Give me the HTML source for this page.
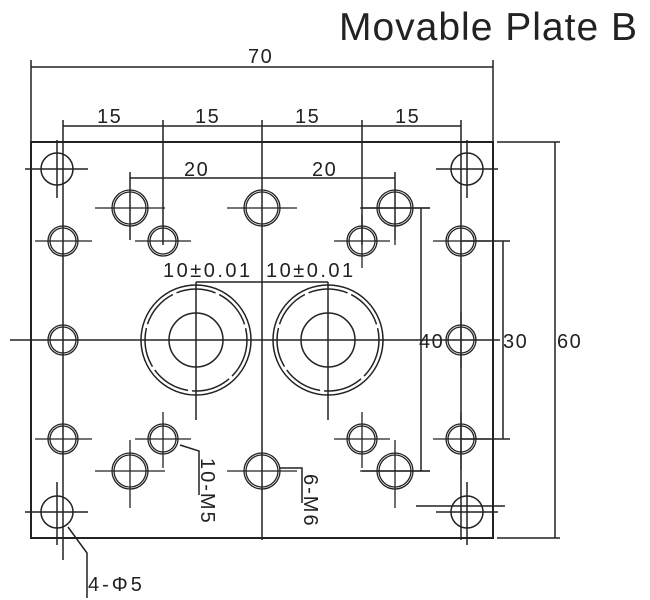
<!DOCTYPE html>
<html><head><style>body{margin:0;background:#fff}svg{display:block}</style></head><body>
<svg width="650" height="600" viewBox="0 0 650 600" xmlns="http://www.w3.org/2000/svg" font-family="Liberation Sans, sans-serif" fill="none" stroke="#222" stroke-width="1.5">
<text x="339" y="40" font-size="39" letter-spacing="1" fill="#222" stroke="none">Movable Plate B</text>
<!-- plate -->
<rect x="31" y="142" width="462" height="396" stroke-width="2"/>
<!-- 70 dim -->
<path d="M31 60V142M493 60V142M31 67H493"/>
<g font-size="20" letter-spacing="1.5" fill="#222" stroke="none">
<text x="248" y="63">70</text>
<text x="97" y="123">15</text><text x="195" y="123">15</text><text x="295" y="123">15</text><text x="395" y="123">15</text>
<text x="184" y="176">20</text><text x="312" y="176">20</text>
<text x="163" y="277" letter-spacing="2.5">10±0.01</text><text x="266" y="277" letter-spacing="2.5">10±0.01</text>
<text x="419" y="348">40</text><text x="503" y="348">30</text><text x="557" y="348">60</text>
<text x="88" y="591" letter-spacing="3">4-Φ5</text></g>
<!-- 15 dims -->
<path d="M63 126H461M63 120V560M163 120V245M262 120V540M362 120V245M461 120V540"/>
<path d="M130 178H395M130 172V240M395 172V240"/>
<path d="M196 282H328M196 282V420M328 282V420"/>
<!-- centre lines -->
<path d="M10 340H500"/>
<!-- 40/30/60 -->
<path d="M362 208H430M362 471H430M421 208V471"/>
<path d="M461 241H510M461 439H510M503 241V439"/>
<path d="M497 142H560M497 538H560M555 142V538"/>
<!-- big circles -->
<g><circle cx="196" cy="340" r="55"/><circle cx="196" cy="340" r="51" stroke-dasharray="40 4"/><circle cx="196" cy="340" r="27"/>
<circle cx="328" cy="340" r="55"/><circle cx="328" cy="340" r="51" stroke-dasharray="40 4"/><circle cx="328" cy="340" r="27"/></g>
<!-- corner holes -->
<g>
<circle cx="57" cy="169" r="16"/><path d="M25 169H88M57 140V198"/>
<circle cx="467" cy="169" r="16"/><path d="M436 169H498M467 140V198"/>
<circle cx="57" cy="512" r="16"/><path d="M25 512H88M57 482V545"/>
<circle cx="467" cy="512" r="16"/><path d="M416 506H505M436 512H498M467 482V545"/>
</g>
<!-- double holes -->
<g stroke-width="1.3">
<circle cx="63" cy="241" r="15"/><circle cx="63" cy="241" r="13"/><path d="M35 241H92"/>
<circle cx="63" cy="340" r="15"/><circle cx="63" cy="340" r="13"/>
<circle cx="63" cy="439" r="15"/><circle cx="63" cy="439" r="13"/><path d="M35 439H92"/>
<circle cx="461" cy="241" r="15"/><circle cx="461" cy="241" r="13"/><path d="M433 241H490"/>
<circle cx="461" cy="340" r="15"/><circle cx="461" cy="340" r="13"/><path d="M461 312V368"/>
<circle cx="461" cy="439" r="15"/><circle cx="461" cy="439" r="13"/><path d="M433 439H490M461 412V470"/>
<circle cx="163" cy="241" r="15"/><circle cx="163" cy="241" r="13"/><path d="M135 241H191"/>
<circle cx="362" cy="241" r="15"/><circle cx="362" cy="241" r="13"/><path d="M334 241H390M362 215V268"/>
<circle cx="163" cy="439" r="15"/><circle cx="163" cy="439" r="13"/><path d="M135 439H191M163 412V468"/>
<circle cx="362" cy="439" r="15"/><circle cx="362" cy="439" r="13"/><path d="M334 439H390M362 412V468"/>
<circle cx="130" cy="208" r="18"/><circle cx="130" cy="208" r="16"/><path d="M95 208H165"/>
<circle cx="395" cy="208" r="18"/><circle cx="395" cy="208" r="16"/><path d="M360 208H430M395 240V245"/>
<circle cx="130" cy="471" r="18"/><circle cx="130" cy="471" r="16"/><path d="M95 471H165M130 440V508"/>
<circle cx="395" cy="471" r="18"/><circle cx="395" cy="471" r="16"/><path d="M360 471H430M395 440V508"/>
<circle cx="262" cy="208" r="18"/><circle cx="262" cy="208" r="16"/><path d="M227 208H297"/>
<circle cx="262" cy="471" r="18"/><circle cx="262" cy="471" r="16"/><path d="M227 471H297"/>
</g>
<!-- leaders -->
<path d="M180 445L199 451V495M280 468H302V503M68 527L87 553V598"/>
<g font-size="20" letter-spacing="2" fill="#222" stroke="none">
<text transform="translate(201,458) rotate(90)">10-M5</text>
<text transform="translate(304,474) rotate(90)">6-M6</text>
</g>
</svg>
</body></html>
